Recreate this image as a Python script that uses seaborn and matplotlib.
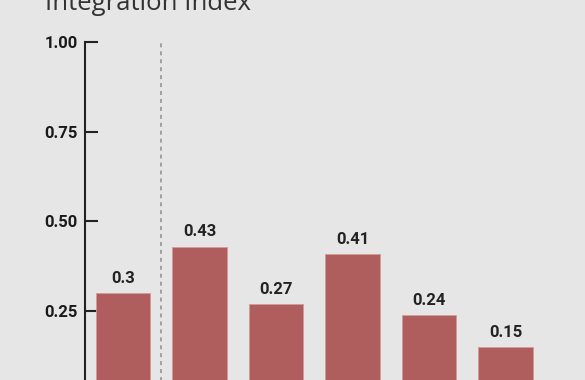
import matplotlib
matplotlib.use("Agg")
import matplotlib.pyplot as plt
import seaborn as sns
import pandas as pd

# values (x labels are cropped out of the picture)
categories = ["Overall", "Group A", "Group B", "Group C", "Group D", "Group E"]
values = [0.30, 0.43, 0.27, 0.41, 0.24, 0.15]
value_labels = ["0.3", "0.43", "0.27", "0.41", "0.24", "0.15"]
yticks = [0.25, 0.50, 0.75, 1.00]
title = "Integration Index"

BG = "#e6e6e6"
BAR = "#af5d5d"
LABEL_FONT = ["Roboto", "DejaVu Sans"]

sns.set_style("white")
plt.rcParams["font.family"] = ["Open Sans", "DejaVu Sans"]

df = pd.DataFrame({"category": categories, "value": values})

fig = plt.figure(figsize=(5.85, 3.8), dpi=100, facecolor=BG)
# axes run below the bottom edge, as in the cropped reference
ax = fig.add_axes([84.75 / 585, 1 - 400.8 / 380, 459 / 585, 358.8 / 380])
ax.set_facecolor(BG)

sns.barplot(data=df, x="category", y="value", order=categories,
            color=BAR, width=0.71, edgecolor="#d49a9a", linewidth=0.6,
            saturation=1, ax=ax)

ax.set_xlim(-0.5, 5.5)
ax.set_ylim(0, 1.0)
ax.set_yticks(yticks)
ax.set_yticklabels([f"{t:.2f}" for t in yticks], fontsize=12,
                   fontweight="bold", family=LABEL_FONT, color="#1a1a1a")
ax.tick_params(axis="y", left=True, direction="in", length=9, width=1.5,
               color="#222222", pad=5)
ax.set_xticks([])
ax.set_xlabel("")
ax.set_ylabel("")

for s in ["top", "right", "bottom"]:
    ax.spines[s].set_visible(False)
ax.spines["left"].set_color("#222222")
ax.spines["left"].set_linewidth(1.5)

# separator between the first bar and the rest
ax.axvline(0.5, ymin=0, ymax=1, color="#9a9a9a", linestyle=(0, (2.2, 2.2)),
           linewidth=1.3)

for i, (v, lab) in enumerate(zip(values, value_labels)):
    ax.text(i, v + 0.02, lab, ha="center", va="bottom", fontsize=12,
            fontweight="bold", family=LABEL_FONT, color="#222222")

fig.text(45 / 585, 1 - 10 / 380, title, fontsize=18.5, color="#333333",
         ha="left", va="baseline")

fig.savefig("out.png", dpi=100, facecolor=BG)
